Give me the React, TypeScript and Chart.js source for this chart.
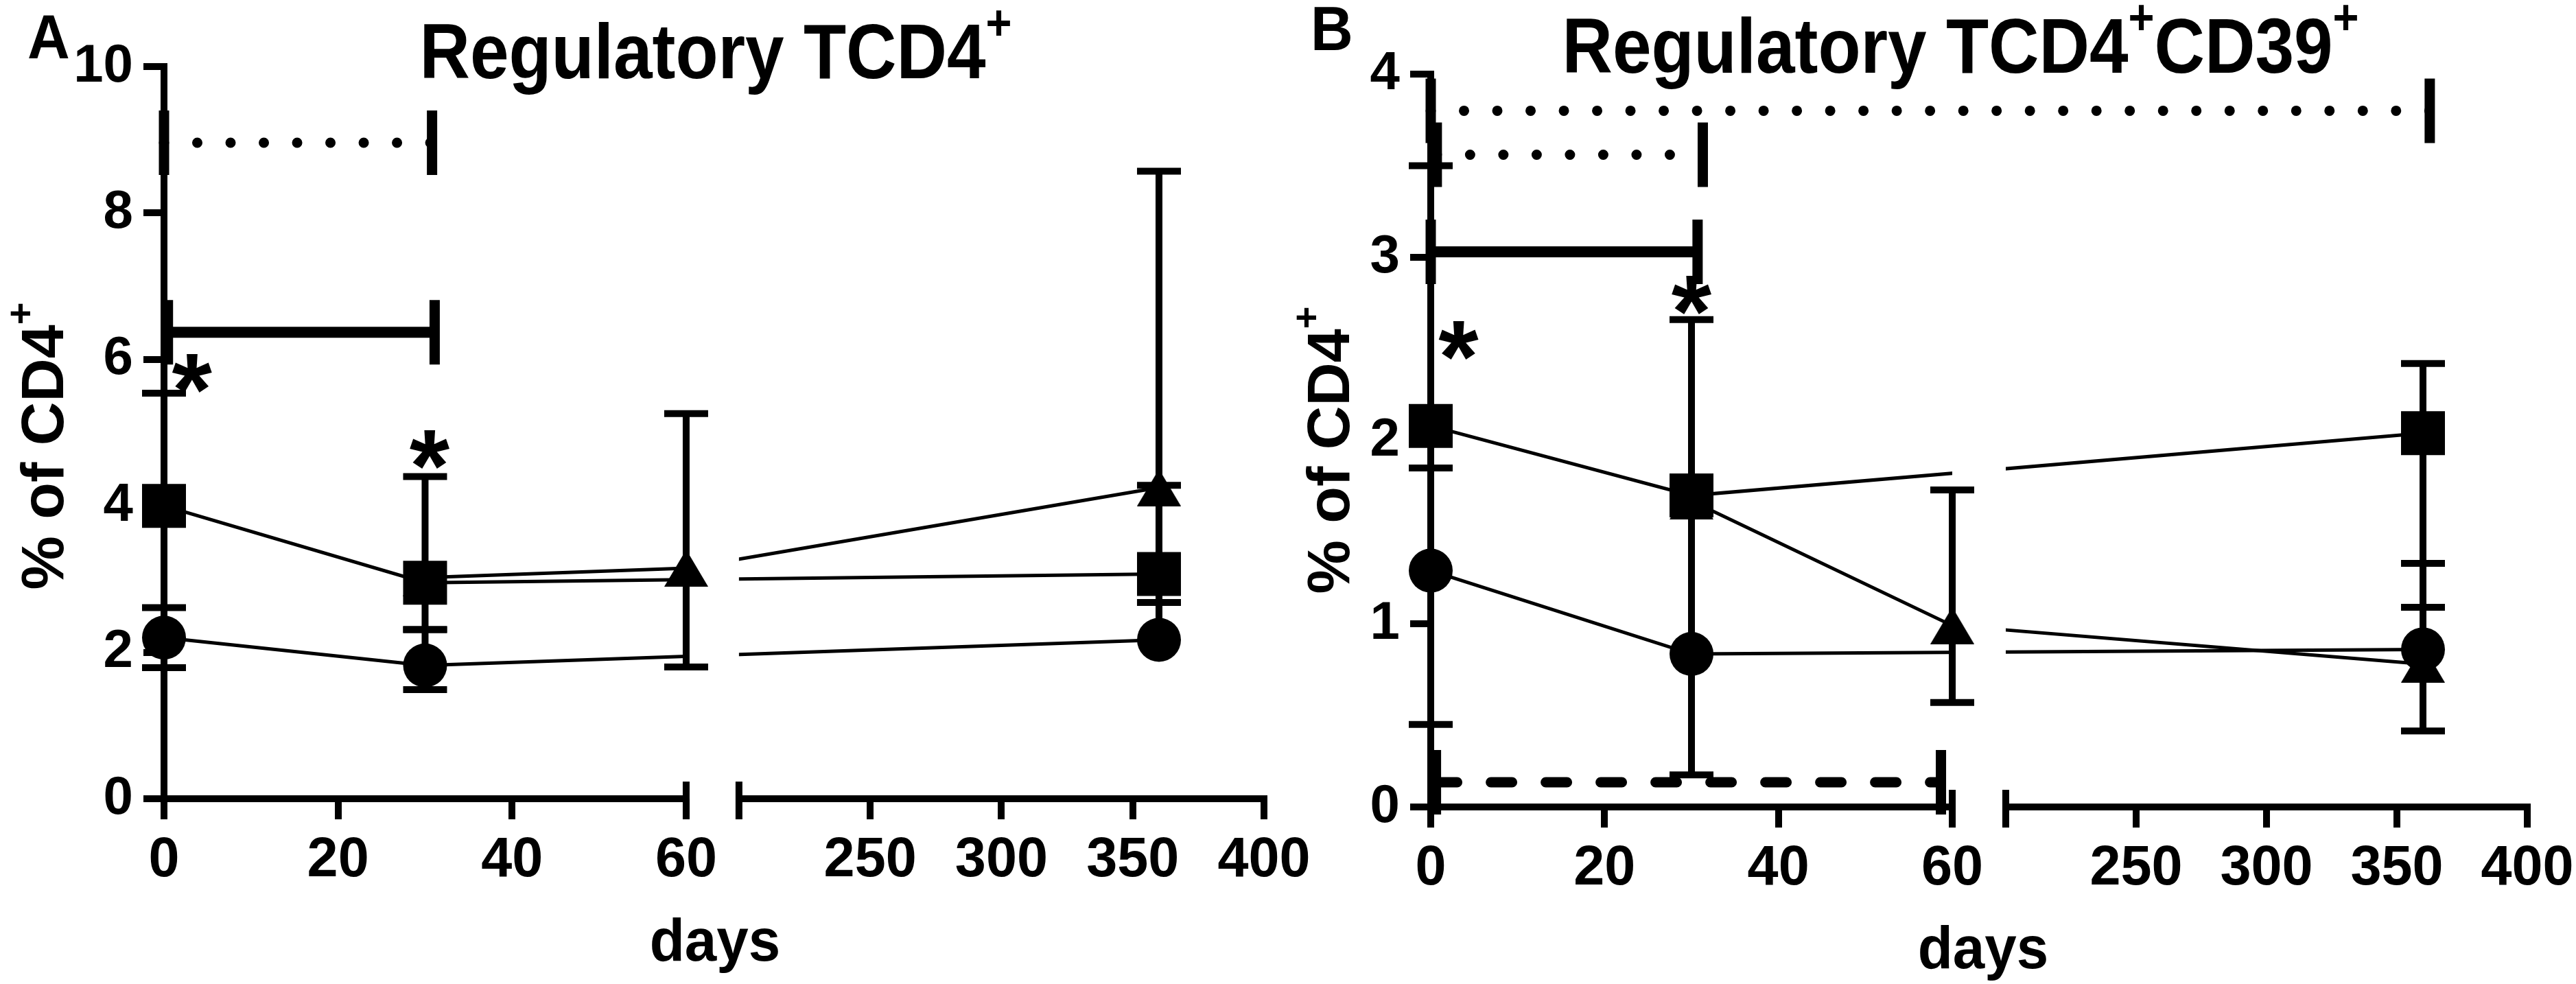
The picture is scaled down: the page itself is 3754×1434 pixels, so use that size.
import React, { useEffect, useRef } from 'react';
import { Chart, LinearScale, registerables } from 'chart.js';

Chart.register(...registerables);

// ---------------- data ----------------
const X_TICKS = [0, 20, 40, 60, 250, 300, 350, 400];
const X_BREAK_START = 60;
const X_BREAK_END = 200;

// Panel A – Regulatory TCD4+
const A_Y_TICKS_STEP = 2;
const A_Y_MAX = 10;
const A_CIRCLE_X = [0, 30, 360];
const A_CIRCLE_Y = [2.2, 1.82, 2.17];
const A_CIRCLE_LO = [1.79, 1.49, null];
const A_CIRCLE_HI = [2.61, 2.31, 2.68];
const A_SQUARE_X = [0, 30, 360];
const A_SQUARE_Y = [4.0, 2.95, 3.07];
const A_SQUARE_LO = [null, 2.31, 2.68];
const A_SQUARE_HI = [5.54, 4.4, 4.28];
const A_TRI_X = [30, 60, 360];
const A_TRI_Y = [3.02, 3.15, 4.25];
const A_TRI_LO = [null, 1.8, null];
const A_TRI_HI = [null, 5.26, 8.57];
const A_SIG = [
  { x1: 0, x2: 30.8, y: 8.96, style: 'dotted' },
  { x1: 0.45, x2: 31.1, y: 6.37, style: 'solid' },
];
const A_STARS = [
  { x: 3.2, y: 5.87 },
  { x: 30.5, y: 4.83 },
];

// Panel B – Regulatory TCD4+CD39+
const B_Y_TICKS_STEP = 1;
const B_Y_MAX = 4;
const B_CIRCLE_X = [0, 30, 360];
const B_CIRCLE_Y = [1.29, 0.835, 0.86];
const B_CIRCLE_LO = [0.45, 0.175, null];
const B_CIRCLE_HI = [1.85, 1.7, 1.09];
const B_SQUARE_X = [0, 30, 360];
const B_SQUARE_Y = [2.08, 1.7, 2.04];
const B_SQUARE_LO = [null, null, 1.33];
const B_SQUARE_HI = [3.5, 2.66, 2.42];
const B_TRI_X = [30, 60, 360];
const B_TRI_Y = [1.67, 0.99, 0.78];
const B_TRI_LO = [null, 0.57, 0.415];
const B_TRI_HI = [null, 1.73, 1.33];
const B_SIG = [
  { x1: 0, x2: 362.6, y: 3.8, style: 'dotted' },
  { x1: 0.7, x2: 31.3, y: 3.56, style: 'dotted' },
  { x1: 0, x2: 30.7, y: 3.03, style: 'solid' },
  { x1: 0.6, x2: 58.7, y: 0.135, style: 'dashed' },
];
const B_STARS = [
  { x: 3.2, y: 2.57 },
  { x: 30, y: 2.82 },
];

// ---------------- style ----------------
const FONT = '"Liberation Sans", Arial, Helvetica, sans-serif';
const AXIS_W = 10;
const TICK_LEN = 30;
const CAP_HALF = 32;
const ERR_W = 10;
const CONNECT_W = 5;
const SUP_SCALE = 0.64;
const SUP_RAISE = 0.5;

class BrokenLinearScale extends LinearScale {
  static id = 'brokenLinear';
  static defaults = LinearScale.defaults;

  _segs() {
    const b: any = (this.options as any).brk || {};
    return {
      lMax: b.leftMax ?? 60,
      rMin: b.rightMin ?? 200,
      lf: b.leftFrac ?? 0.475,
      gf: b.gapFrac ?? 0.048,
    };
  }
  getPixelForValue(value: any) {
    if (value === null || value === undefined || Number.isNaN(value)) return NaN;
    const { lMax, rMin, lf, gf } = this._segs();
    const min = (this as any).min;
    const max = (this as any).max;
    let d;
    if (value <= lMax) d = ((value - min) / (lMax - min)) * lf;
    else if (value >= rMin) d = lf + gf + ((value - rMin) / (max - rMin)) * (1 - lf - gf);
    else d = lf + ((value - lMax) / (rMin - lMax)) * gf;
    return (this as any).getPixelForDecimal(d);
  }
  getValueForPixel(pixel: number) {
    const { lMax, rMin, lf, gf } = this._segs();
    const d = (this as any).getDecimalForPixel(pixel);
    const min = (this as any).min;
    const max = (this as any).max;
    if (d <= lf) return min + (d / lf) * (lMax - min);
    if (d >= lf + gf) return rMin + ((d - lf - gf) / (1 - lf - gf)) * (max - rMin);
    return lMax + ((d - lf) / gf) * (rMin - lMax);
  }
}
Chart.register(BrokenLinearScale as any);

const PANEL_A = {
  canvasLeft: 0,
  canvasWidth: 1960,
  area: { left: 239, right: 1842, top: 97, bottom: 1164 },
  brk: { leftMax: X_BREAK_START, rightMin: X_BREAK_END, leftFrac: 0.4747, gapFrac: 0.048 },
  yMax: A_Y_MAX,
  yStep: A_Y_TICKS_STEP,
  series: [
    { xs: A_CIRCLE_X, ys: A_CIRCLE_Y, lo: A_CIRCLE_LO, hi: A_CIRCLE_HI, marker: 'circle' },
    { xs: A_SQUARE_X, ys: A_SQUARE_Y, lo: A_SQUARE_LO, hi: A_SQUARE_HI, marker: 'square' },
    { xs: A_TRI_X, ys: A_TRI_Y, lo: A_TRI_LO, hi: A_TRI_HI, marker: 'triangle' },
  ],
  sig: A_SIG,
  stars: A_STARS,
  letter: { text: 'A', x: 40, y: 85 },
  title: { parts: [['Regulatory TCD4', false], ['+', true]], x: 1043, y: 114 },
  yTitle: { parts: [['% of CD4', false], ['+', true]], x: 92, y: 650 },
  xTitle: { text: 'days', x: 1042, y: 1400 },
};

const PANEL_B = {
  canvasLeft: 1860,
  canvasWidth: 1894,
  area: { left: 2085, right: 3683, top: 108, bottom: 1176 },
  brk: { leftMax: X_BREAK_START, rightMin: X_BREAK_END, leftFrac: 0.4756, gapFrac: 0.0488 },
  yMax: B_Y_MAX,
  yStep: B_Y_TICKS_STEP,
  series: [
    { xs: B_CIRCLE_X, ys: B_CIRCLE_Y, lo: B_CIRCLE_LO, hi: B_CIRCLE_HI, marker: 'circle' },
    { xs: B_SQUARE_X, ys: B_SQUARE_Y, lo: B_SQUARE_LO, hi: B_SQUARE_HI, marker: 'square' },
    { xs: B_TRI_X, ys: B_TRI_Y, lo: B_TRI_LO, hi: B_TRI_HI, marker: 'triangle' },
  ],
  sig: B_SIG,
  stars: B_STARS,
  letter: { text: 'B', x: 1910, y: 73 },
  title: { parts: [['Regulatory TCD4', false], ['+', true], ['CD39', false], ['+', true]], x: 2857, y: 106 },
  yTitle: { parts: [['% of CD4', false], ['+', true]], x: 1966, y: 656 },
  xTitle: { text: 'days', x: 2890, y: 1411 },
};

const CANVAS_H = 1434;
const X_AXIS_H = 200;

function makeTriangle(w: number, h: number) {
  const c = document.createElement('canvas');
  c.width = w;
  c.height = h;
  const g = c.getContext('2d')!;
  g.fillStyle = '#000';
  g.beginPath();
  g.moveTo(w / 2, 0);
  g.lineTo(w, h);
  g.lineTo(0, h);
  g.closePath();
  g.fill();
  return c;
}

function drawRich(ctx: CanvasRenderingContext2D, parts: any[], size: number, scaleX: number) {
  ctx.save();
  ctx.scale(scaleX, 1);
  ctx.textAlign = 'left';
  ctx.textBaseline = 'alphabetic';
  ctx.fillStyle = '#000';
  const widths = parts.map(([t, sup]) => {
    ctx.font = `bold ${sup ? size * SUP_SCALE : size}px ${FONT}`;
    return ctx.measureText(t).width;
  });
  const total = widths.reduce((a, b) => a + b, 0);
  let cx = -total / 2;
  parts.forEach(([t, sup], i) => {
    ctx.font = `bold ${sup ? size * SUP_SCALE : size}px ${FONT}`;
    ctx.fillText(t, cx, sup ? -size * SUP_RAISE : 0);
    cx += widths[i];
  });
  ctx.restore();
}

function buildChart(canvas: HTMLCanvasElement, P: any, tri: HTMLCanvasElement) {
  const off = P.canvasLeft;
  const datasets: any[] = [];

  P.series.forEach((s: any) => {
    // connecting line
    datasets.push({
      data: s.xs.map((x: number, i: number) => ({ x, y: s.ys[i] })),
      showLine: true,
      borderColor: '#000',
      borderWidth: CONNECT_W,
      pointRadius: 0,
      clip: false,
      order: 3,
      connector: true,
    });
    // error bars
    const eData: any[] = [];
    const eRad: number[] = [];
    s.xs.forEach((x: number, i: number) => {
      if (s.lo[i] == null && s.hi[i] == null) return;
      eData.push({ x, y: s.lo[i] ?? s.ys[i] });
      eRad.push(s.lo[i] != null ? CAP_HALF : 0);
      eData.push({ x, y: s.hi[i] ?? s.ys[i] });
      eRad.push(s.hi[i] != null ? CAP_HALF : 0);
      eData.push({ x, y: null });
      eRad.push(0);
    });
    datasets.push({
      data: eData,
      showLine: true,
      spanGaps: false,
      borderColor: '#000',
      borderWidth: ERR_W,
      borderCapStyle: 'butt',
      pointStyle: 'line',
      pointRadius: eRad,
      pointBorderWidth: ERR_W,
      pointBorderColor: '#000',
      clip: false,
      order: 2,
    });
    // markers
    const marker: any = { data: s.xs.map((x: number, i: number) => ({ x, y: s.ys[i] })), showLine: false, pointBackgroundColor: '#000', pointBorderWidth: 0, clip: false, order: 0 };
    if (s.marker === 'circle') { marker.pointStyle = 'circle'; marker.pointRadius = 32; }
    else if (s.marker === 'square') { marker.pointStyle = 'rect'; marker.pointRadius = 45.25; }
    else { marker.pointStyle = tri; marker.pointRadius = 32; }
    datasets.push(marker);
  });

  const decor = {
    id: 'decor',
    beforeDatasetsDraw(chart: any) {
      const ctx = chart.ctx;
      const x = chart.scales.x;
      const y = chart.scales.y;
      const y0 = y.getPixelForValue(0);
      const xl = x.getPixelForValue(x.min);
      const xb1 = x.getPixelForValue(X_BREAK_START);
      const xb2 = x.getPixelForValue(X_BREAK_END);
      const xr = x.getPixelForValue(x.max);
      ctx.save();
      ctx.strokeStyle = '#000';
      ctx.lineWidth = AXIS_W;
      ctx.lineCap = 'butt';
      ctx.beginPath();
      ctx.moveTo(xl - AXIS_W / 2, y0);
      ctx.lineTo(xb1 + AXIS_W / 2, y0);
      ctx.moveTo(xb2 - AXIS_W / 2, y0);
      ctx.lineTo(xr + AXIS_W / 2, y0);
      ctx.moveTo(xb1, y0 - 25);
      ctx.lineTo(xb1, y0 + 30);
      ctx.moveTo(xb2, y0 - 25);
      ctx.lineTo(xb2, y0 + 30);
      ctx.stroke();
      ctx.restore();
    },
    beforeDatasetDraw(chart: any, args: any) {
      const ds = chart.data.datasets[args.index];
      if (!ds.connector) return;
      const x = chart.scales.x;
      const g1 = x.getPixelForValue(X_BREAK_START);
      const g2 = x.getPixelForValue(X_BREAK_END);
      const ctx = chart.ctx;
      ctx.save();
      ctx.beginPath();
      ctx.rect(0, 0, g1, chart.height);
      ctx.rect(g2, 0, chart.width - g2, chart.height);
      ctx.clip();
    },
    afterDatasetDraw(chart: any, args: any) {
      const ds = chart.data.datasets[args.index];
      if (!ds.connector) return;
      chart.ctx.restore();
    },
    afterDatasetsDraw(chart: any) {
      const ctx = chart.ctx;
      const x = chart.scales.x;
      const y = chart.scales.y;
      P.sig.forEach((s: any) => {
        const px1 = x.getPixelForValue(s.x1);
        const px2 = x.getPixelForValue(s.x2);
        const py = y.getPixelForValue(s.y);
        ctx.save();
        ctx.strokeStyle = '#000';
        ctx.beginPath();
        if (s.style === 'solid') {
          ctx.lineWidth = 16;
          ctx.lineCap = 'butt';
        } else if (s.style === 'dotted') {
          ctx.lineWidth = 15;
          ctx.lineCap = 'round';
          ctx.setLineDash([0.01, 48.5]);
        } else {
          ctx.lineWidth = 15;
          ctx.lineCap = 'round';
          ctx.setLineDash([31, 49]);
        }
        ctx.moveTo(px1, py);
        ctx.lineTo(px2, py);
        ctx.stroke();
        ctx.setLineDash([]);
        ctx.lineCap = 'butt';
        ctx.lineWidth = 15;
        ctx.beginPath();
        ctx.moveTo(px1, py - 47);
        ctx.lineTo(px1, py + 47);
        ctx.moveTo(px2, py - 47);
        ctx.lineTo(px2, py + 47);
        ctx.stroke();
        ctx.restore();
      });
      ctx.save();
      ctx.fillStyle = '#000';
      ctx.font = `bold 150px ${FONT}`;
      ctx.textAlign = 'center';
      ctx.textBaseline = 'alphabetic';
      P.stars.forEach((s: any) => {
        ctx.fillText('*', x.getPixelForValue(s.x), y.getPixelForValue(s.y) + 0.55 * 150);
      });
      ctx.restore();
    },
    afterDraw(chart: any) {
      const ctx = chart.ctx;
      // panel letter
      ctx.save();
      ctx.fillStyle = '#000';
      ctx.font = `bold 90px ${FONT}`;
      ctx.textAlign = 'left';
      ctx.textBaseline = 'alphabetic';
      ctx.translate(P.letter.x - off, P.letter.y);
      ctx.scale(0.95, 1);
      ctx.fillText(P.letter.text, 0, 0);
      ctx.restore();
      // title
      ctx.save();
      ctx.translate(P.title.x - off, P.title.y);
      drawRich(ctx, P.title.parts, 113, 0.9);
      ctx.restore();
      // y title
      ctx.save();
      ctx.translate(P.yTitle.x - off, P.yTitle.y);
      ctx.rotate(-Math.PI / 2);
      drawRich(ctx, P.yTitle.parts, 88, 1);
      ctx.restore();
      // x title
      ctx.save();
      ctx.translate(P.xTitle.x - off, P.xTitle.y);
      drawRich(ctx, [[P.xTitle.text, false]], 88, 0.95);
      ctx.restore();
    },
  };

  const areaLeftLocal = P.area.left - off;
  const areaRightLocal = P.area.right - off;

  return new Chart(canvas, {
    type: 'line',
    data: { datasets },
    options: {
      animation: false,
      responsive: false,
      devicePixelRatio: 1,
      events: [],
      layout: {
        padding: {
          left: 0,
          top: P.area.top,
          right: P.canvasWidth - areaRightLocal,
          bottom: CANVAS_H - P.area.bottom - X_AXIS_H,
        },
      },
      plugins: {
        legend: { display: false },
        title: { display: false },
        tooltip: { enabled: false },
      },
      scales: {
        x: {
          type: 'brokenLinear',
          min: 0,
          max: 400,
          brk: P.brk,
          afterBuildTicks: (s: any) => {
            s.ticks = X_TICKS.map((v) => ({ value: v }));
          },
          afterFit: (s: any) => {
            s.height = X_AXIS_H;
            s.paddingLeft = 0;
            s.paddingRight = 0;
          },
          border: { display: false },
          grid: {
            drawOnChartArea: false,
            drawTicks: true,
            tickLength: TICK_LEN,
            tickWidth: AXIS_W,
            lineWidth: AXIS_W,
            color: '#000',
            tickColor: '#000',
          },
          ticks: {
            autoSkip: false,
            maxRotation: 0,
            minRotation: 0,
            padding: 20,
            color: '#000',
            font: { family: FONT, size: 81, weight: 'bold', lineHeight: 1 },
            callback: (v: any) => String(v),
          },
        },
        y: {
          type: 'linear',
          min: 0,
          max: P.yMax,
          afterFit: (s: any) => {
            s.width = areaLeftLocal;
            s.paddingTop = 0;
            s.paddingBottom = 0;
          },
          border: { display: true, width: AXIS_W, color: '#000' },
          grid: {
            drawOnChartArea: false,
            drawTicks: true,
            tickLength: TICK_LEN,
            tickWidth: AXIS_W,
            lineWidth: AXIS_W,
            color: '#000',
            tickColor: '#000',
          },
          ticks: {
            stepSize: P.yStep,
            padding: 15,
            color: '#000',
            font: { family: FONT, size: 78, weight: 'bold', lineHeight: 1 },
          },
        },
      },
    } as any,
    plugins: [decor],
  });
}

export default function App() {
  const refA = useRef<HTMLCanvasElement>(null);
  const refB = useRef<HTMLCanvasElement>(null);

  useEffect(() => {
    document.body.style.margin = '0';
    const tri = makeTriangle(64, 54);
    const charts: Chart[] = [];
    if (refA.current) charts.push(buildChart(refA.current, PANEL_A, tri));
    if (refB.current) charts.push(buildChart(refB.current, PANEL_B, tri));
    return () => charts.forEach((c) => c.destroy());
  }, []);

  return (
    <div style={{ position: 'relative', width: 3754, height: CANVAS_H, overflow: 'hidden', background: '#fff' }}>
      <canvas
        ref={refA}
        width={PANEL_A.canvasWidth}
        height={CANVAS_H}
        style={{ position: 'absolute', left: PANEL_A.canvasLeft, top: 0, width: PANEL_A.canvasWidth, height: CANVAS_H }}
      />
      <canvas
        ref={refB}
        width={PANEL_B.canvasWidth}
        height={CANVAS_H}
        style={{ position: 'absolute', left: PANEL_B.canvasLeft, top: 0, width: PANEL_B.canvasWidth, height: CANVAS_H }}
      />
    </div>
  );
}
